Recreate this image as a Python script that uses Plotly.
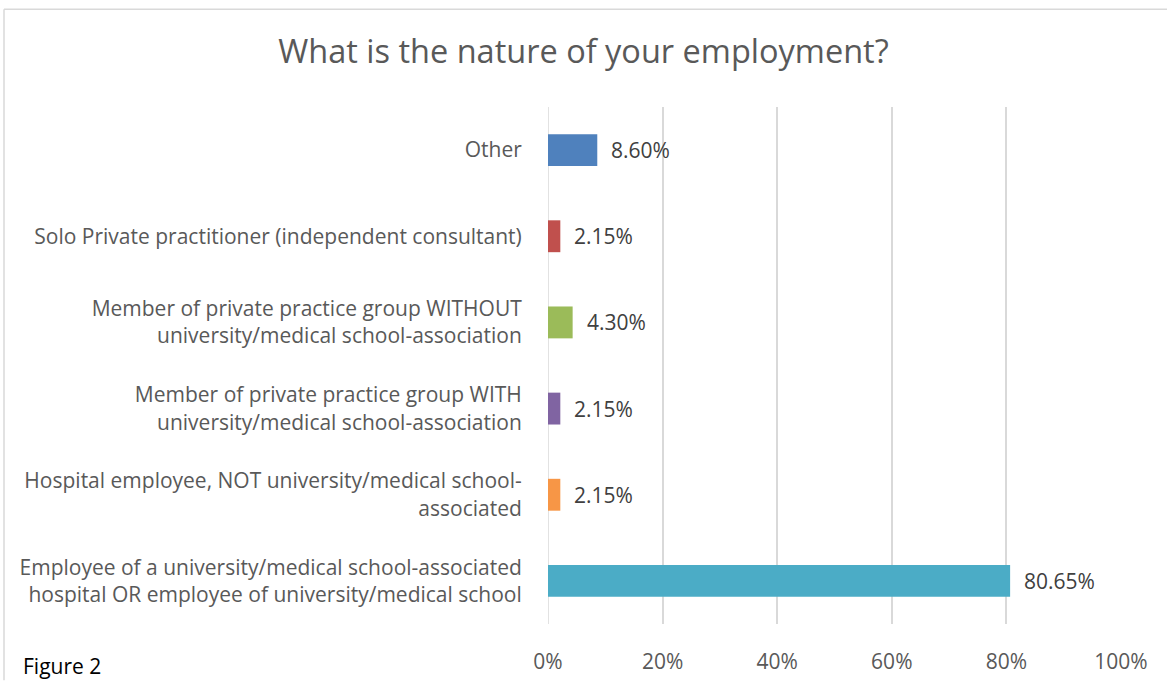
import plotly.graph_objects as go

categories = [
    "Employee of a university/medical school-associated<br>hospital OR employee of university/medical school",
    "Hospital employee, NOT university/medical school-<br>associated",
    "Member of private practice group WITH<br>university/medical school-association",
    "Member of private practice group WITHOUT<br>university/medical school-association",
    "Solo Private practitioner (independent consultant)",
    "Other",
]
values = [80.65, 2.15, 2.15, 4.30, 2.15, 8.60]
colors = ["#4BACC6", "#F79646", "#8064A2", "#9BBB59", "#C0504D", "#4F81BD"]
x_ticks = [0, 20, 40, 60, 80, 100]
x_tick_labels = ["0%", "20%", "40%", "60%", "80%", "100%"]

FONT = "Open Sans"
W, H = 1167, 687
L, R, T, B = 548, 46, 107, 57
pw, ph = W - L - R, H - T - B

fig = go.Figure()
fig.add_trace(go.Bar(
    x=values, y=categories, orientation="h",
    marker=dict(color=colors, line=dict(width=0)),
    width=0.37, hoverinfo="skip",
))

for v, c in zip(values, categories):
    fig.add_annotation(x=v, y=c, xref="x", yref="y", text=f"{v:.2f}%",
                       showarrow=False, xanchor="left", xshift=12,
                       font=dict(family=FONT, size=21, color="#404040"))

fig.add_annotation(x=(21 - L) / pw, y=(H - B - 672) / ph, xref="paper", yref="paper",
                   text="Figure 2", showarrow=False, xanchor="left", yanchor="middle",
                   font=dict(family=FONT, size=21, color="#000000"))

# chart frame: only top and left edges visible in the picture
border = dict(color="#D9D9D9", width=1.5)
fig.add_shape(type="line", xref="paper", yref="paper",
              x0=(4 - L) / pw, x1=(W - L) / pw,
              y0=(H - B - 8) / ph, y1=(H - B - 8) / ph, line=border, layer="below")
fig.add_shape(type="line", xref="paper", yref="paper",
              x0=(4 - L) / pw, x1=(4 - L) / pw,
              y0=(H - B - 8) / ph, y1=(H - B - H) / ph, line=border, layer="below")

fig.update_layout(
    width=W, height=H,
    margin=dict(l=L, r=R, t=T, b=B, pad=0),
    paper_bgcolor="white", plot_bgcolor="white",
    showlegend=False,
    title=dict(text="What is the nature of your employment?", x=0.5, xanchor="center",
               y=1 - 52 / H, yanchor="middle",
               font=dict(family=FONT, size=32.5, color="#595959")),
    xaxis=dict(range=[0, 100], tickvals=x_ticks, ticktext=x_tick_labels,
               showgrid=True, gridcolor="#D9D9D9", gridwidth=1.5,
               zeroline=False, showline=False,
               ticks="outside", ticklen=19, tickcolor="rgba(0,0,0,0)",
               tickfont=dict(family=FONT, size=21, color="#595959"),
               fixedrange=True),
    yaxis=dict(categoryorder="array", categoryarray=categories,
               showgrid=False, zeroline=False, showline=False,
               ticks="outside", ticklen=21, tickcolor="rgba(0,0,0,0)",
               tickfont=dict(family=FONT, size=21, color="#595959"),
               range=[-0.5, 5.5], fixedrange=True),
    bargap=0.63,
)
fig.add_shape(type="line", xref="x", yref="paper", x0=0, x1=0, y0=0, y1=1,
              line=dict(color="#D9D9D9", width=1.5), layer="below")

fig.write_html("out.html")
